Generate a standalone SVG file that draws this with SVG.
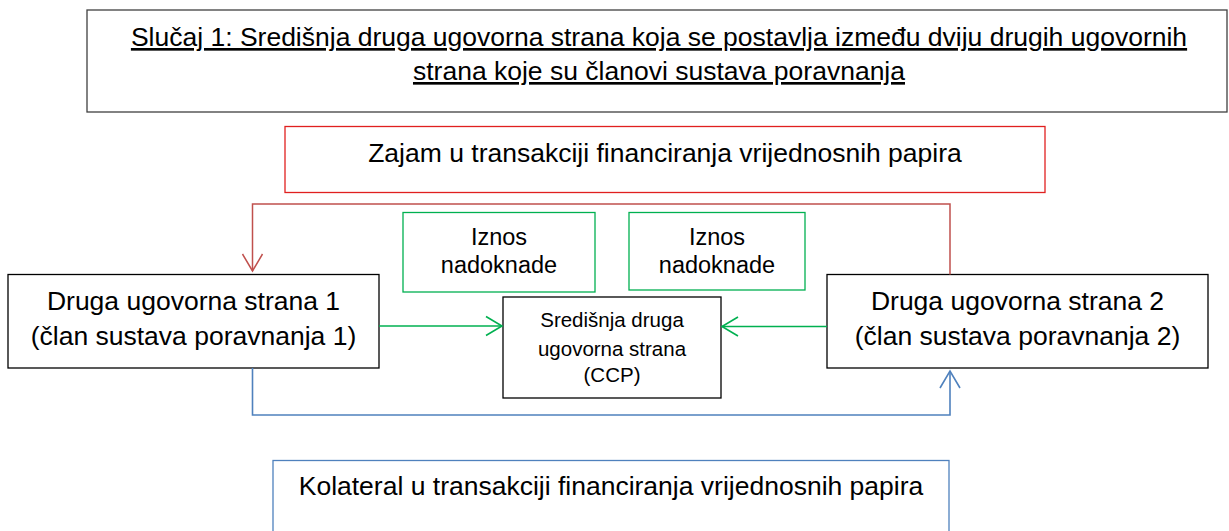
<svg xmlns="http://www.w3.org/2000/svg" width="1229" height="531" viewBox="0 0 1229 531">
<style>
text{font-family:"Liberation Sans",Arial,sans-serif;fill:#000;text-anchor:middle}
.big{font-size:26.5px}
.mid{font-size:23.5px}
.sm{font-size:20.5px}
.box{fill:#fff;stroke:#000;stroke-width:1.3}
.title{fill:#fff;stroke:#404040;stroke-width:1.3}
.red{fill:#fff;stroke:#E0201F;stroke-width:1.3}
.grn{fill:#fff;stroke:#00B050;stroke-width:1.3}
.blu{fill:#fff;stroke:#4F81BD;stroke-width:1.3}
.cr{fill:none;stroke:#C0504D;stroke-width:1.5}
.cg{fill:none;stroke:#00B050;stroke-width:1.6}
.cb{fill:none;stroke:#4F81BD;stroke-width:1.6}
</style>
<rect width="1229" height="531" fill="#fff"/>
<g id="title">
<rect class="title" x="87" y="10" width="1140" height="102"/>
<text class="big" x="659" y="46" text-decoration="underline">Slučaj 1: Središnja druga ugovorna strana koja se postavlja između dviju drugih ugovornih</text>
<text class="big" x="659" y="80" text-decoration="underline">strana koje su članovi sustava poravnanja</text>
</g>
<g id="loan">
<rect class="red" x="285" y="126.5" width="760" height="66"/>
<text class="big" x="665" y="162">Zajam u transakciji financiranja vrijednosnih papira</text>
</g>
<g id="fee1">
<rect class="grn" x="403" y="212.5" width="192" height="79.5"/>
<text class="mid" x="499" y="245">Iznos</text>
<text class="mid" x="499" y="273">nadoknade</text>
</g>
<g id="fee2">
<rect class="grn" x="629" y="212.5" width="176" height="77.5"/>
<text class="mid" x="717" y="245">Iznos</text>
<text class="mid" x="717" y="273">nadoknade</text>
</g>
<g id="cp1">
<rect class="box" x="8" y="274.5" width="371" height="93.5"/>
<text class="big" x="193.5" y="310">Druga ugovorna strana 1</text>
<text class="big" x="193.5" y="345">(član sustava poravnanja 1)</text>
</g>
<g id="ccp">
<rect class="box" x="503" y="297" width="218" height="101"/>
<text class="sm" x="612" y="327">Središnja druga</text>
<text class="sm" x="612" y="356">ugovorna strana</text>
<text class="sm" x="612" y="382">(CCP)</text>
</g>
<g id="cp2">
<rect class="box" x="827" y="274.5" width="381" height="93.5"/>
<text class="big" x="1017.5" y="310">Druga ugovorna strana 2</text>
<text class="big" x="1017.5" y="345">(član sustava poravnanja 2)</text>
</g>
<g id="collateral">
<rect class="blu" x="273" y="460.5" width="676" height="80"/>
<text class="big" x="611" y="495">Kolateral u transakciji financiranja vrijednosnih papira</text>
</g>
<g id="connectors">
<path class="cr" d="M950 274.5 V204 H252.5 V271"/>
<path class="cr" d="M242.5 254 L252.5 271 L262.5 254"/>
<path class="cg" d="M379 326 H502"/>
<path class="cg" d="M486 316.5 L502 326 L486 335.5"/>
<path class="cg" d="M827 326.5 H722"/>
<path class="cg" d="M738 317 L722 326.5 L738 336"/>
<path class="cb" d="M252.5 368 V415 H950 V371"/>
<path class="cb" d="M940 388 L950 371 L960 388"/>
</g>
</svg>
